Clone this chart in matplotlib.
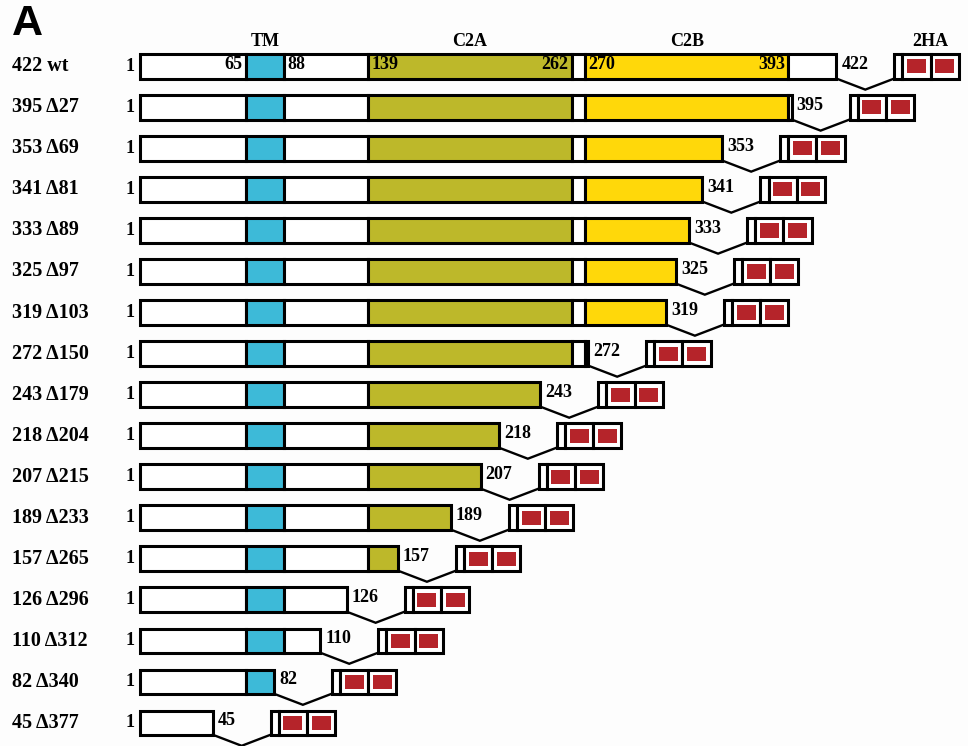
import matplotlib.pyplot as plt

# construct lengths (aa) and the matching C-terminal deletions
ends = [422, 395, 353, 341, 333, 325, 319, 272, 243, 218, 207, 189, 157, 126, 110, 82, 45]
deleted = [None, 27, 69, 81, 89, 97, 103, 150, 179, 204, 215, 233, 265, 296, 312, 340, 377]

# domain map of the full-length protein
bounds = [1, 65, 88, 139, 262, 270, 393, 422]
seg_colors = ['white', '#3dbad8', 'white', '#bdb82a', 'white', '#ffd80a', 'white']
domain_names = ['TM', 'C2A', 'C2B']
domain_spans = [(65, 88), (139, 262), (270, 393)]

plt.rcParams['font.family'] = ['Liberation Serif', 'DejaVu Serif']
plt.rcParams['font.weight'] = 'bold'

fig = plt.figure(figsize=(9.68, 7.46), dpi=100)
fig.patch.set_facecolor('#fdfdfd')
ax = fig.add_axes([0, 0, 1, 1])
ax.set_xlim(-83.6, 501.6)
ax.set_ylim(16.57, -1.62)
ax.axis('off')

h = 0.59      # bar height (row units)
lw = 2.2
gap = 35      # linker between construct end and tag
depth = 0.27  # depth of the linker V
strip = 5
comp = 17

for i, n in enumerate(ends):
    # domain segments, truncated at the construct end
    for s, e, c in zip(bounds[:-1], bounds[1:], seg_colors):
        if s >= n:
            break
        e = min(e, n)
        ax.barh(i, e - s, left=s, height=h, color=c, edgecolor='black', linewidth=lw)

    # linker V and the 2HA tag
    t0 = n + gap
    ax.plot([n, n + gap / 2, t0], [i + h / 2, i + h / 2 + depth, i + h / 2],
            color='black', lw=1.7, solid_joinstyle='miter')
    ax.barh(i, strip, left=t0, height=h, color='white', edgecolor='black', linewidth=lw)
    for k in range(2):
        x0 = t0 + strip + k * comp
        ax.barh(i, comp, left=x0, height=h, color='white', edgecolor='black', linewidth=lw)
        ax.barh(i, comp - 5.5, left=x0 + 2.75, height=h * 0.58, color='#b5242a', linewidth=0)

    # labels
    name = f'{n} wt' if deleted[i] is None else f'{n} \u0394{deleted[i]}'
    ax.text(-76.5, i, name, fontsize=14.5, ha='left', va='center')
    ax.text(-2.5, i, '1', fontsize=13, ha='right', va='center')
    ax.text(n + 3, i - 0.04, str(n), fontsize=13, ha='left', va='center')

# boundary numbers inside the full-length bar
for v, ha in [(65, 'right'), (88, 'left'), (139, 'left'), (262, 'right'), (270, 'left'), (393, 'right')]:
    dx = 2 if ha == 'left' else -2
    ax.text(v + dx, -0.04, str(v), fontsize=13, ha=ha, va='center')

# domain headers
for name, (s, e) in zip(domain_names, domain_spans):
    ax.text((s + e) / 2, -0.6, name, fontsize=13, ha='center', va='center')
ax.text(422 + gap + strip + comp, -0.6, '2HA', fontsize=13, ha='center', va='center')

fig.text(0.012, 0.995, 'A', fontsize=31, fontweight='bold', family='Liberation Sans',
         ha='left', va='top')

fig.savefig('out.png', dpi=100, facecolor=fig.get_facecolor())
